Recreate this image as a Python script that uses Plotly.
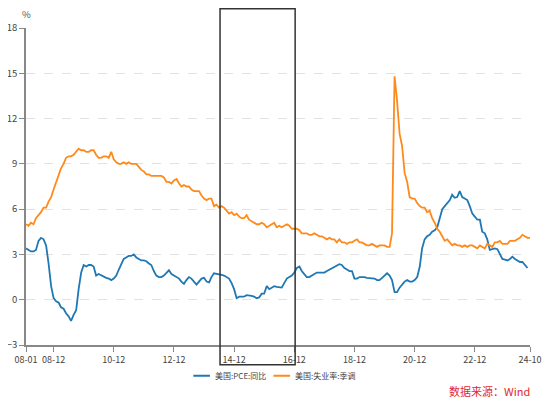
import pandas as pd
import plotly.graph_objects as go

pce_yoy = [
    3.4, 3.3, 3.2, 3.2, 3.3, 3.9, 4.1, 4.0, 3.6, 2.4, 0.9, 0.1,
    -0.1, -0.2, -0.5, -0.6, -0.9, -1.1, -1.4, -1.0, -0.7, 0.7, 1.8, 2.3,
    2.2, 2.3, 2.3, 2.2, 1.6, 1.7, 1.6, 1.5, 1.45, 1.4, 1.3, 1.4,
    1.6, 2.0, 2.3, 2.7, 2.8, 2.9, 2.9, 3.0, 2.8, 2.7, 2.6, 2.6,
    2.55, 2.4, 2.3, 1.9, 1.6, 1.5, 1.5, 1.6, 1.8, 1.95, 1.7, 1.6,
    1.55, 1.4, 1.2, 1.05, 1.3, 1.5, 1.4, 1.2, 1.0, 1.2, 1.4, 1.45,
    1.2, 1.15, 1.5, 1.75, 1.7, 1.7, 1.65, 1.6, 1.5, 1.4, 1.1, 0.7,
    0.1, 0.2, 0.2, 0.2, 0.3, 0.3, 0.25, 0.2, 0.1, 0.15, 0.4, 0.4,
    0.9, 0.7, 0.8, 0.9, 0.85, 0.8, 0.8, 1.1, 1.4, 1.5, 1.6, 1.8,
    2.1, 2.2, 1.9, 1.7, 1.5, 1.5, 1.6, 1.7, 1.8, 1.8, 1.8, 1.8,
    1.9, 2.0, 2.1, 2.2, 2.3, 2.35, 2.3, 2.1, 2.0, 1.9, 1.9, 1.4,
    1.4, 1.5, 1.5, 1.5, 1.45, 1.45, 1.4, 1.4, 1.3, 1.3, 1.45, 1.6,
    1.75, 1.6, 1.3, 0.5, 0.5, 0.8, 1.0, 1.2, 1.3, 1.2, 1.2, 1.3,
    1.5, 2.2, 3.4, 4.0, 4.2, 4.3, 4.5, 4.6, 4.8, 5.4, 6.0, 6.2,
    6.4, 6.6, 6.95, 6.75, 6.8, 7.2, 6.8, 6.7, 6.6, 6.2, 5.7, 5.5,
    5.3, 5.3, 4.5, 4.4, 4.0, 3.3, 3.35, 3.4, 3.35, 3.0, 2.7, 2.65,
    2.6, 2.7, 2.85, 2.7, 2.6, 2.5, 2.5, 2.3, 2.1,
]

unemployment = [
    5.0, 4.9, 5.1, 5.0, 5.4, 5.6, 5.8, 6.1, 6.1, 6.5, 6.8, 7.3,
    7.8, 8.3, 8.7, 9.0, 9.4, 9.5, 9.5, 9.6, 9.8, 10.0, 9.9, 9.9,
    9.8, 9.8, 9.9, 9.9, 9.6, 9.4, 9.4, 9.5, 9.5, 9.4, 9.8, 9.3,
    9.1, 9.0, 9.0, 9.1, 9.0, 9.1, 9.0, 9.0, 9.0, 8.8, 8.6, 8.5,
    8.3, 8.3, 8.2, 8.2, 8.2, 8.2, 8.2, 8.1, 7.8, 7.8, 7.7, 7.9,
    8.0, 7.7, 7.5, 7.6, 7.5, 7.5, 7.3, 7.2, 7.2, 7.2, 6.9, 6.7,
    6.6, 6.7, 6.7, 6.2, 6.3, 6.1, 6.2, 6.1, 5.9, 5.7, 5.8, 5.6,
    5.7, 5.5, 5.4, 5.4, 5.6, 5.3, 5.2, 5.1, 5.0, 5.0, 5.1, 5.0,
    4.8, 4.9, 5.0, 5.1, 4.8, 4.9, 4.8, 4.9, 5.0, 4.9, 4.7, 4.7,
    4.7, 4.6, 4.4, 4.4, 4.4, 4.3, 4.3, 4.4, 4.3, 4.2, 4.2, 4.1,
    4.0, 4.1, 4.0, 4.0, 3.8, 4.0, 3.8, 3.8, 3.7, 3.8, 3.8, 3.9,
    4.0, 3.8, 3.8, 3.7, 3.6, 3.6, 3.7, 3.6, 3.5, 3.6, 3.6, 3.6,
    3.5, 3.5, 4.4, 14.8, 13.2, 11.0, 10.2, 8.4, 7.8, 6.8, 6.7, 6.7,
    6.4, 6.2, 6.1, 6.1, 5.8, 5.9, 5.4, 5.1, 4.7, 4.5, 4.2, 3.9,
    4.0, 3.8, 3.6, 3.7, 3.6, 3.6, 3.5, 3.6, 3.5, 3.6, 3.6, 3.5,
    3.4, 3.6, 3.5, 3.4, 3.7, 3.6, 3.5, 3.8, 3.8, 3.9, 3.7, 3.7,
    3.7, 3.9, 3.9, 3.9, 4.0, 4.1, 4.3, 4.2, 4.1, 4.1,
]

dates_pce = pd.date_range("2008-01-01", periods=len(pce_yoy), freq="MS")
dates_unemp = pd.date_range("2008-01-01", periods=len(unemployment), freq="MS")

tick_dates = ["2008-01-01", "2008-12-01", "2010-12-01", "2012-12-01", "2014-12-01",
              "2016-12-01", "2018-12-01", "2020-12-01", "2022-12-01", "2024-10-01"]
tick_labels = ["08-01", "08-12", "10-12", "12-12", "14-12", "16-12", "18-12", "20-12", "22-12", "24-10"]
y_ticks = [-3, 0, 3, 6, 9, 12, 15, 18]

series_names = ["美国:PCE:同比", "美国:失业率:季调"]
colors = ["#1f78b4", "#ff8a1c"]

font_family = "Noto Sans CJK SC, Noto Sans, sans-serif"

fig = go.Figure()
fig.add_trace(go.Scatter(x=dates_pce, y=pce_yoy, mode="lines", name=series_names[0],
                         line=dict(color=colors[0], width=1.8), showlegend=False))
fig.add_trace(go.Scatter(x=dates_unemp, y=unemployment, mode="lines", name=series_names[1],
                         line=dict(color=colors[1], width=1.8), showlegend=False))

# page body has an 8px margin, so the figure is sized to fit inside the window
fig.update_layout(
    width=542, height=396,
    margin=dict(l=18, r=20, t=20, b=59, autoexpand=False),
    paper_bgcolor="white", plot_bgcolor="white",
    font=dict(family=font_family, size=9, color="#444"),
    showlegend=False,
)

fig.update_xaxes(
    type="date", range=["2008-01-01", "2024-10-01"],
    tickvals=tick_dates, ticktext=tick_labels, tickangle=0, automargin=False,
    showgrid=False, showline=True, linecolor="#888", linewidth=1.5,
    ticks="outside", ticklen=5, tickcolor="#888", tickwidth=1,
    tickfont=dict(size=9, color="#444"), zeroline=False,
)
fig.update_yaxes(
    range=[-3, 18], tickvals=y_ticks, automargin=False,
    showgrid=True, gridcolor="#e2e2e2", griddash="dash", gridwidth=1,
    showline=True, linecolor="#888", linewidth=1.5,
    ticks="outside", ticklen=5, tickcolor="#888", tickwidth=1,
    tickfont=dict(size=9.5, color="#444"), zeroline=False,
)

fig.add_annotation(text="%", xref="paper", yref="paper", x=0, y=1.044,
                   showarrow=False, font=dict(size=9.5, color="#555"), xanchor="center", yanchor="middle")
fig.add_annotation(text="数据来源：Wind", xref="paper", yref="paper", x=1.004, y=-0.144,
                   showarrow=False, font=dict(size=11, color="#e0282e"), xanchor="right", yanchor="middle")

# legend (drawn manually to match the short legend keys)
legend_line_x = [(0.332, 0.365), (0.491, 0.524)]
legend_text_x = [0.371, 0.530]
for i in range(2):
    fig.add_shape(type="line", xref="paper", yref="paper",
                  x0=legend_line_x[i][0], x1=legend_line_x[i][1], y0=-0.097, y1=-0.097,
                  line=dict(color=colors[i], width=2))
    fig.add_annotation(text=series_names[i], xref="paper", yref="paper",
                       x=legend_text_x[i], y=-0.097, showarrow=False,
                       font=dict(size=8, color="#444"), xanchor="left", yanchor="middle")

# highlight box around 2014-06 .. 2016-12
fig.add_shape(type="rect", xref="paper", yref="paper",
              x0=0.385, x1=0.534, y0=-0.062, y1=1.061,
              line=dict(color="#333", width=1.5), fillcolor="rgba(0,0,0,0)", layer="above")

fig.write_html("out.html")
